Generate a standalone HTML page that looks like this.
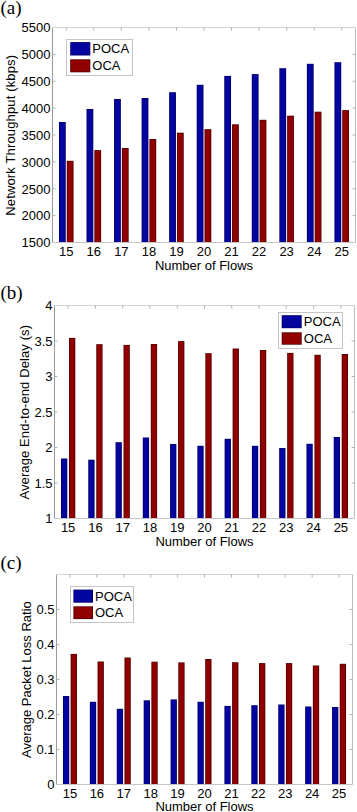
<!DOCTYPE html>
<html><head><meta charset="utf-8"><style>
html,body{margin:0;padding:0;background:#fff;}
body{width:357px;height:812px;overflow:hidden;}
svg{display:block;}
.t{font-family:'Liberation Sans', sans-serif;font-size:13px;fill:#000;}
.s{font-family:'Liberation Serif', serif;font-size:19px;fill:#000;}
</style></head><body>
<svg width="357" height="812" viewBox="0 0 357 812">
<rect width="357" height="812" fill="#fff"/>
<rect x="58.97" y="122.00" width="6.80" height="120.50" fill="#00006a"/><rect x="59.77" y="122.80" width="5.20" height="119.70" fill="#04049e"/>
<rect x="66.77" y="160.80" width="6.80" height="81.70" fill="#520000"/><rect x="67.57" y="161.60" width="5.20" height="80.90" fill="#900000"/>
<rect x="86.52" y="109.00" width="6.80" height="133.50" fill="#00006a"/><rect x="87.32" y="109.80" width="5.20" height="132.70" fill="#04049e"/>
<rect x="94.32" y="150.10" width="6.80" height="92.40" fill="#520000"/><rect x="95.12" y="150.90" width="5.20" height="91.60" fill="#900000"/>
<rect x="114.06" y="99.00" width="6.80" height="143.50" fill="#00006a"/><rect x="114.86" y="99.80" width="5.20" height="142.70" fill="#04049e"/>
<rect x="121.86" y="148.00" width="6.80" height="94.50" fill="#520000"/><rect x="122.66" y="148.80" width="5.20" height="93.70" fill="#900000"/>
<rect x="141.61" y="98.00" width="6.80" height="144.50" fill="#00006a"/><rect x="142.41" y="98.80" width="5.20" height="143.70" fill="#04049e"/>
<rect x="149.41" y="139.00" width="6.80" height="103.50" fill="#520000"/><rect x="150.21" y="139.80" width="5.20" height="102.70" fill="#900000"/>
<rect x="169.15" y="92.20" width="6.80" height="150.30" fill="#00006a"/><rect x="169.95" y="93.00" width="5.20" height="149.50" fill="#04049e"/>
<rect x="176.95" y="132.70" width="6.80" height="109.80" fill="#520000"/><rect x="177.75" y="133.50" width="5.20" height="109.00" fill="#900000"/>
<rect x="196.70" y="84.80" width="6.80" height="157.70" fill="#00006a"/><rect x="197.50" y="85.60" width="5.20" height="156.90" fill="#04049e"/>
<rect x="204.50" y="129.20" width="6.80" height="113.30" fill="#520000"/><rect x="205.30" y="130.00" width="5.20" height="112.50" fill="#900000"/>
<rect x="224.25" y="75.90" width="6.80" height="166.60" fill="#00006a"/><rect x="225.05" y="76.70" width="5.20" height="165.80" fill="#04049e"/>
<rect x="232.05" y="124.30" width="6.80" height="118.20" fill="#520000"/><rect x="232.85" y="125.10" width="5.20" height="117.40" fill="#900000"/>
<rect x="251.79" y="74.10" width="6.80" height="168.40" fill="#00006a"/><rect x="252.59" y="74.90" width="5.20" height="167.60" fill="#04049e"/>
<rect x="259.59" y="119.80" width="6.80" height="122.70" fill="#520000"/><rect x="260.39" y="120.60" width="5.20" height="121.90" fill="#900000"/>
<rect x="279.34" y="68.20" width="6.80" height="174.30" fill="#00006a"/><rect x="280.14" y="69.00" width="5.20" height="173.50" fill="#04049e"/>
<rect x="287.14" y="115.70" width="6.80" height="126.80" fill="#520000"/><rect x="287.94" y="116.50" width="5.20" height="126.00" fill="#900000"/>
<rect x="306.88" y="63.80" width="6.80" height="178.70" fill="#00006a"/><rect x="307.68" y="64.60" width="5.20" height="177.90" fill="#04049e"/>
<rect x="314.68" y="111.70" width="6.80" height="130.80" fill="#520000"/><rect x="315.48" y="112.50" width="5.20" height="130.00" fill="#900000"/>
<rect x="334.43" y="62.20" width="6.80" height="180.30" fill="#00006a"/><rect x="335.23" y="63.00" width="5.20" height="179.50" fill="#04049e"/>
<rect x="342.23" y="110.10" width="6.80" height="132.40" fill="#520000"/><rect x="343.03" y="110.90" width="5.20" height="131.60" fill="#900000"/>
<line x1="52.5" y1="27.5" x2="52.5" y2="242.5" stroke="#9a9a9a" stroke-width="1"/>
<line x1="355.5" y1="27.5" x2="355.5" y2="242.5" stroke="#bdbdbd" stroke-width="1"/>
<line x1="52.5" y1="27.5" x2="355.5" y2="27.5" stroke="#d2d2d2" stroke-width="1"/>
<line x1="52.5" y1="242.5" x2="355.5" y2="242.5" stroke="#c4c4c4" stroke-width="1"/>
<line x1="66.27" y1="27.5" x2="66.27" y2="30.5" stroke="#b0b0b0" stroke-width="1"/>
<line x1="93.82" y1="27.5" x2="93.82" y2="30.5" stroke="#b0b0b0" stroke-width="1"/>
<line x1="121.36" y1="27.5" x2="121.36" y2="30.5" stroke="#b0b0b0" stroke-width="1"/>
<line x1="148.91" y1="27.5" x2="148.91" y2="30.5" stroke="#b0b0b0" stroke-width="1"/>
<line x1="176.45" y1="27.5" x2="176.45" y2="30.5" stroke="#b0b0b0" stroke-width="1"/>
<line x1="204.00" y1="27.5" x2="204.00" y2="30.5" stroke="#b0b0b0" stroke-width="1"/>
<line x1="231.55" y1="27.5" x2="231.55" y2="30.5" stroke="#b0b0b0" stroke-width="1"/>
<line x1="259.09" y1="27.5" x2="259.09" y2="30.5" stroke="#b0b0b0" stroke-width="1"/>
<line x1="286.64" y1="27.5" x2="286.64" y2="30.5" stroke="#b0b0b0" stroke-width="1"/>
<line x1="314.18" y1="27.5" x2="314.18" y2="30.5" stroke="#b0b0b0" stroke-width="1"/>
<line x1="341.73" y1="27.5" x2="341.73" y2="30.5" stroke="#b0b0b0" stroke-width="1"/>
<text x="50.50" y="247.30" text-anchor="end" class="t">1500</text>
<line x1="52.5" y1="215.62" x2="55.5" y2="215.62" stroke="#b0b0b0" stroke-width="1"/>
<line x1="352.5" y1="215.62" x2="355.5" y2="215.62" stroke="#b0b0b0" stroke-width="1"/>
<text x="50.50" y="220.43" text-anchor="end" class="t">2000</text>
<line x1="52.5" y1="188.75" x2="55.5" y2="188.75" stroke="#b0b0b0" stroke-width="1"/>
<line x1="352.5" y1="188.75" x2="355.5" y2="188.75" stroke="#b0b0b0" stroke-width="1"/>
<text x="50.50" y="193.55" text-anchor="end" class="t">2500</text>
<line x1="52.5" y1="161.88" x2="55.5" y2="161.88" stroke="#b0b0b0" stroke-width="1"/>
<line x1="352.5" y1="161.88" x2="355.5" y2="161.88" stroke="#b0b0b0" stroke-width="1"/>
<text x="50.50" y="166.68" text-anchor="end" class="t">3000</text>
<line x1="52.5" y1="135.00" x2="55.5" y2="135.00" stroke="#b0b0b0" stroke-width="1"/>
<line x1="352.5" y1="135.00" x2="355.5" y2="135.00" stroke="#b0b0b0" stroke-width="1"/>
<text x="50.50" y="139.80" text-anchor="end" class="t">3500</text>
<line x1="52.5" y1="108.12" x2="55.5" y2="108.12" stroke="#b0b0b0" stroke-width="1"/>
<line x1="352.5" y1="108.12" x2="355.5" y2="108.12" stroke="#b0b0b0" stroke-width="1"/>
<text x="50.50" y="112.92" text-anchor="end" class="t">4000</text>
<line x1="52.5" y1="81.25" x2="55.5" y2="81.25" stroke="#b0b0b0" stroke-width="1"/>
<line x1="352.5" y1="81.25" x2="355.5" y2="81.25" stroke="#b0b0b0" stroke-width="1"/>
<text x="50.50" y="86.05" text-anchor="end" class="t">4500</text>
<line x1="52.5" y1="54.38" x2="55.5" y2="54.38" stroke="#b0b0b0" stroke-width="1"/>
<line x1="352.5" y1="54.38" x2="355.5" y2="54.38" stroke="#b0b0b0" stroke-width="1"/>
<text x="50.50" y="59.17" text-anchor="end" class="t">5000</text>
<text x="50.50" y="32.30" text-anchor="end" class="t">5500</text>
<text x="66.27" y="256.2" text-anchor="middle" class="t">15</text>
<text x="93.82" y="256.2" text-anchor="middle" class="t">16</text>
<text x="121.36" y="256.2" text-anchor="middle" class="t">17</text>
<text x="148.91" y="256.2" text-anchor="middle" class="t">18</text>
<text x="176.45" y="256.2" text-anchor="middle" class="t">19</text>
<text x="204.00" y="256.2" text-anchor="middle" class="t">20</text>
<text x="231.55" y="256.2" text-anchor="middle" class="t">21</text>
<text x="259.09" y="256.2" text-anchor="middle" class="t">22</text>
<text x="286.64" y="256.2" text-anchor="middle" class="t">23</text>
<text x="314.18" y="256.2" text-anchor="middle" class="t">24</text>
<text x="341.73" y="256.2" text-anchor="middle" class="t">25</text>
<text x="204.00" y="270.2" text-anchor="middle" class="t">Number of Flows</text>
<text transform="translate(14.7,135.35) rotate(-90)" text-anchor="middle" textLength="160.8" lengthAdjust="spacing" class="t">Network Throughput (kbps)</text>
<text x="0.5" y="14.2" class="s">(a)</text>
<rect x="66.5" y="39.5" width="66.0" height="36.0" fill="#fff" stroke="#c4c4c4" stroke-width="1"/>
<rect x="70.20" y="42.10" width="20.10" height="13.40" fill="#00006a"/><rect x="71.00" y="42.90" width="18.50" height="11.80" fill="#04049e"/>
<text x="92.3" y="53.40" class="t">POCA</text>
<rect x="70.20" y="59.30" width="20.10" height="13.00" fill="#520000"/><rect x="71.00" y="60.10" width="18.50" height="11.40" fill="#900000"/>
<text x="92.3" y="70.40" class="t">OCA</text>
<rect x="60.99" y="458.50" width="6.30" height="60.00" fill="#00006a"/><rect x="61.79" y="459.30" width="4.70" height="59.20" fill="#04049e"/>
<rect x="68.99" y="337.90" width="6.30" height="180.60" fill="#520000"/><rect x="69.79" y="338.70" width="4.70" height="179.80" fill="#900000"/>
<rect x="88.26" y="459.70" width="6.30" height="58.80" fill="#00006a"/><rect x="89.06" y="460.50" width="4.70" height="58.00" fill="#04049e"/>
<rect x="96.26" y="344.20" width="6.30" height="174.30" fill="#520000"/><rect x="97.06" y="345.00" width="4.70" height="173.50" fill="#900000"/>
<rect x="115.53" y="442.20" width="6.30" height="76.30" fill="#00006a"/><rect x="116.33" y="443.00" width="4.70" height="75.50" fill="#04049e"/>
<rect x="123.53" y="344.90" width="6.30" height="173.60" fill="#520000"/><rect x="124.33" y="345.70" width="4.70" height="172.80" fill="#900000"/>
<rect x="142.80" y="437.50" width="6.30" height="81.00" fill="#00006a"/><rect x="143.60" y="438.30" width="4.70" height="80.20" fill="#04049e"/>
<rect x="150.80" y="344.00" width="6.30" height="174.50" fill="#520000"/><rect x="151.60" y="344.80" width="4.70" height="173.70" fill="#900000"/>
<rect x="170.08" y="444.00" width="6.30" height="74.50" fill="#00006a"/><rect x="170.88" y="444.80" width="4.70" height="73.70" fill="#04049e"/>
<rect x="178.08" y="341.10" width="6.30" height="177.40" fill="#520000"/><rect x="178.88" y="341.90" width="4.70" height="176.60" fill="#900000"/>
<rect x="197.35" y="445.80" width="6.30" height="72.70" fill="#00006a"/><rect x="198.15" y="446.60" width="4.70" height="71.90" fill="#04049e"/>
<rect x="205.35" y="353.20" width="6.30" height="165.30" fill="#520000"/><rect x="206.15" y="354.00" width="4.70" height="164.50" fill="#900000"/>
<rect x="224.62" y="438.80" width="6.30" height="79.70" fill="#00006a"/><rect x="225.42" y="439.60" width="4.70" height="78.90" fill="#04049e"/>
<rect x="232.62" y="348.50" width="6.30" height="170.00" fill="#520000"/><rect x="233.42" y="349.30" width="4.70" height="169.20" fill="#900000"/>
<rect x="251.90" y="445.80" width="6.30" height="72.70" fill="#00006a"/><rect x="252.70" y="446.60" width="4.70" height="71.90" fill="#04049e"/>
<rect x="259.90" y="350.00" width="6.30" height="168.50" fill="#520000"/><rect x="260.70" y="350.80" width="4.70" height="167.70" fill="#900000"/>
<rect x="279.17" y="448.00" width="6.30" height="70.50" fill="#00006a"/><rect x="279.97" y="448.80" width="4.70" height="69.70" fill="#04049e"/>
<rect x="287.17" y="352.90" width="6.30" height="165.60" fill="#520000"/><rect x="287.97" y="353.70" width="4.70" height="164.80" fill="#900000"/>
<rect x="306.44" y="443.80" width="6.30" height="74.70" fill="#00006a"/><rect x="307.24" y="444.60" width="4.70" height="73.90" fill="#04049e"/>
<rect x="314.44" y="354.80" width="6.30" height="163.70" fill="#520000"/><rect x="315.24" y="355.60" width="4.70" height="162.90" fill="#900000"/>
<rect x="333.71" y="437.00" width="6.30" height="81.50" fill="#00006a"/><rect x="334.51" y="437.80" width="4.70" height="80.70" fill="#04049e"/>
<rect x="341.71" y="354.00" width="6.30" height="164.50" fill="#520000"/><rect x="342.51" y="354.80" width="4.70" height="163.70" fill="#900000"/>
<line x1="54.5" y1="305.5" x2="54.5" y2="518.5" stroke="#9a9a9a" stroke-width="1"/>
<line x1="354.5" y1="305.5" x2="354.5" y2="518.5" stroke="#bdbdbd" stroke-width="1"/>
<line x1="54.5" y1="305.5" x2="354.5" y2="305.5" stroke="#d2d2d2" stroke-width="1"/>
<line x1="54.5" y1="518.5" x2="354.5" y2="518.5" stroke="#c4c4c4" stroke-width="1"/>
<line x1="68.14" y1="305.5" x2="68.14" y2="308.5" stroke="#b0b0b0" stroke-width="1"/>
<line x1="95.41" y1="305.5" x2="95.41" y2="308.5" stroke="#b0b0b0" stroke-width="1"/>
<line x1="122.68" y1="305.5" x2="122.68" y2="308.5" stroke="#b0b0b0" stroke-width="1"/>
<line x1="149.95" y1="305.5" x2="149.95" y2="308.5" stroke="#b0b0b0" stroke-width="1"/>
<line x1="177.23" y1="305.5" x2="177.23" y2="308.5" stroke="#b0b0b0" stroke-width="1"/>
<line x1="204.50" y1="305.5" x2="204.50" y2="308.5" stroke="#b0b0b0" stroke-width="1"/>
<line x1="231.77" y1="305.5" x2="231.77" y2="308.5" stroke="#b0b0b0" stroke-width="1"/>
<line x1="259.05" y1="305.5" x2="259.05" y2="308.5" stroke="#b0b0b0" stroke-width="1"/>
<line x1="286.32" y1="305.5" x2="286.32" y2="308.5" stroke="#b0b0b0" stroke-width="1"/>
<line x1="313.59" y1="305.5" x2="313.59" y2="308.5" stroke="#b0b0b0" stroke-width="1"/>
<line x1="340.86" y1="305.5" x2="340.86" y2="308.5" stroke="#b0b0b0" stroke-width="1"/>
<text x="52.50" y="523.30" text-anchor="end" class="t">1</text>
<line x1="54.5" y1="483.00" x2="57.5" y2="483.00" stroke="#b0b0b0" stroke-width="1"/>
<line x1="351.5" y1="483.00" x2="354.5" y2="483.00" stroke="#b0b0b0" stroke-width="1"/>
<text x="52.50" y="487.80" text-anchor="end" class="t">1.5</text>
<line x1="54.5" y1="447.50" x2="57.5" y2="447.50" stroke="#b0b0b0" stroke-width="1"/>
<line x1="351.5" y1="447.50" x2="354.5" y2="447.50" stroke="#b0b0b0" stroke-width="1"/>
<text x="52.50" y="452.30" text-anchor="end" class="t">2</text>
<line x1="54.5" y1="412.00" x2="57.5" y2="412.00" stroke="#b0b0b0" stroke-width="1"/>
<line x1="351.5" y1="412.00" x2="354.5" y2="412.00" stroke="#b0b0b0" stroke-width="1"/>
<text x="52.50" y="416.80" text-anchor="end" class="t">2.5</text>
<line x1="54.5" y1="376.50" x2="57.5" y2="376.50" stroke="#b0b0b0" stroke-width="1"/>
<line x1="351.5" y1="376.50" x2="354.5" y2="376.50" stroke="#b0b0b0" stroke-width="1"/>
<text x="52.50" y="381.30" text-anchor="end" class="t">3</text>
<line x1="54.5" y1="341.00" x2="57.5" y2="341.00" stroke="#b0b0b0" stroke-width="1"/>
<line x1="351.5" y1="341.00" x2="354.5" y2="341.00" stroke="#b0b0b0" stroke-width="1"/>
<text x="52.50" y="345.80" text-anchor="end" class="t">3.5</text>
<text x="52.50" y="310.30" text-anchor="end" class="t">4</text>
<text x="68.14" y="531.9" text-anchor="middle" class="t">15</text>
<text x="95.41" y="531.9" text-anchor="middle" class="t">16</text>
<text x="122.68" y="531.9" text-anchor="middle" class="t">17</text>
<text x="149.95" y="531.9" text-anchor="middle" class="t">18</text>
<text x="177.23" y="531.9" text-anchor="middle" class="t">19</text>
<text x="204.50" y="531.9" text-anchor="middle" class="t">20</text>
<text x="231.77" y="531.9" text-anchor="middle" class="t">21</text>
<text x="259.05" y="531.9" text-anchor="middle" class="t">22</text>
<text x="286.32" y="531.9" text-anchor="middle" class="t">23</text>
<text x="313.59" y="531.9" text-anchor="middle" class="t">24</text>
<text x="340.86" y="531.9" text-anchor="middle" class="t">25</text>
<text x="204.50" y="546.3" text-anchor="middle" class="t">Number of Flows</text>
<text transform="translate(28.8,412.25) rotate(-90)" text-anchor="middle" textLength="174.6" lengthAdjust="spacing" class="t">Average End-to-end Delay (s)</text>
<text x="0.5" y="298.5" class="s">(b)</text>
<rect x="278.5" y="312.5" width="64.0" height="36.0" fill="#fff" stroke="#c4c4c4" stroke-width="1"/>
<rect x="281.70" y="315.20" width="20.00" height="13.00" fill="#00006a"/><rect x="282.50" y="316.00" width="18.40" height="11.40" fill="#04049e"/>
<text x="303.8" y="326.30" class="t">POCA</text>
<rect x="281.70" y="332.30" width="20.00" height="12.40" fill="#520000"/><rect x="282.50" y="333.10" width="18.40" height="10.80" fill="#900000"/>
<text x="303.8" y="343.10" class="t">OCA</text>
<rect x="62.95" y="696.00" width="6.30" height="88.50" fill="#00006a"/><rect x="63.75" y="696.80" width="4.70" height="87.70" fill="#04049e"/>
<rect x="70.65" y="653.90" width="6.30" height="130.60" fill="#520000"/><rect x="71.45" y="654.70" width="4.70" height="129.80" fill="#900000"/>
<rect x="89.86" y="701.80" width="6.30" height="82.70" fill="#00006a"/><rect x="90.66" y="702.60" width="4.70" height="81.90" fill="#04049e"/>
<rect x="97.56" y="661.50" width="6.30" height="123.00" fill="#520000"/><rect x="98.36" y="662.30" width="4.70" height="122.20" fill="#900000"/>
<rect x="116.77" y="708.80" width="6.30" height="75.70" fill="#00006a"/><rect x="117.57" y="709.60" width="4.70" height="74.90" fill="#04049e"/>
<rect x="124.47" y="657.50" width="6.30" height="127.00" fill="#520000"/><rect x="125.27" y="658.30" width="4.70" height="126.20" fill="#900000"/>
<rect x="143.68" y="700.30" width="6.30" height="84.20" fill="#00006a"/><rect x="144.48" y="701.10" width="4.70" height="83.40" fill="#04049e"/>
<rect x="151.38" y="661.70" width="6.30" height="122.80" fill="#520000"/><rect x="152.18" y="662.50" width="4.70" height="122.00" fill="#900000"/>
<rect x="170.59" y="699.40" width="6.30" height="85.10" fill="#00006a"/><rect x="171.39" y="700.20" width="4.70" height="84.30" fill="#04049e"/>
<rect x="178.29" y="662.40" width="6.30" height="122.10" fill="#520000"/><rect x="179.09" y="663.20" width="4.70" height="121.30" fill="#900000"/>
<rect x="197.50" y="701.80" width="6.30" height="82.70" fill="#00006a"/><rect x="198.30" y="702.60" width="4.70" height="81.90" fill="#04049e"/>
<rect x="205.20" y="659.00" width="6.30" height="125.50" fill="#520000"/><rect x="206.00" y="659.80" width="4.70" height="124.70" fill="#900000"/>
<rect x="224.41" y="705.90" width="6.30" height="78.60" fill="#00006a"/><rect x="225.21" y="706.70" width="4.70" height="77.80" fill="#04049e"/>
<rect x="232.11" y="662.20" width="6.30" height="122.30" fill="#520000"/><rect x="232.91" y="663.00" width="4.70" height="121.50" fill="#900000"/>
<rect x="251.32" y="705.20" width="6.30" height="79.30" fill="#00006a"/><rect x="252.12" y="706.00" width="4.70" height="78.50" fill="#04049e"/>
<rect x="259.02" y="663.10" width="6.30" height="121.40" fill="#520000"/><rect x="259.82" y="663.90" width="4.70" height="120.60" fill="#900000"/>
<rect x="278.23" y="704.50" width="6.30" height="80.00" fill="#00006a"/><rect x="279.03" y="705.30" width="4.70" height="79.20" fill="#04049e"/>
<rect x="285.93" y="663.10" width="6.30" height="121.40" fill="#520000"/><rect x="286.73" y="663.90" width="4.70" height="120.60" fill="#900000"/>
<rect x="305.14" y="706.50" width="6.30" height="78.00" fill="#00006a"/><rect x="305.94" y="707.30" width="4.70" height="77.20" fill="#04049e"/>
<rect x="312.84" y="665.50" width="6.30" height="119.00" fill="#520000"/><rect x="313.64" y="666.30" width="4.70" height="118.20" fill="#900000"/>
<rect x="332.05" y="707.00" width="6.30" height="77.50" fill="#00006a"/><rect x="332.85" y="707.80" width="4.70" height="76.70" fill="#04049e"/>
<rect x="339.75" y="663.80" width="6.30" height="120.70" fill="#520000"/><rect x="340.55" y="664.60" width="4.70" height="119.90" fill="#900000"/>
<line x1="56.5" y1="574.5" x2="56.5" y2="784.5" stroke="#9a9a9a" stroke-width="1"/>
<line x1="352.5" y1="574.5" x2="352.5" y2="784.5" stroke="#bdbdbd" stroke-width="1"/>
<line x1="56.5" y1="574.5" x2="352.5" y2="574.5" stroke="#d2d2d2" stroke-width="1"/>
<line x1="56.5" y1="784.5" x2="352.5" y2="784.5" stroke="#c4c4c4" stroke-width="1"/>
<line x1="69.95" y1="574.5" x2="69.95" y2="577.5" stroke="#b0b0b0" stroke-width="1"/>
<line x1="96.86" y1="574.5" x2="96.86" y2="577.5" stroke="#b0b0b0" stroke-width="1"/>
<line x1="123.77" y1="574.5" x2="123.77" y2="577.5" stroke="#b0b0b0" stroke-width="1"/>
<line x1="150.68" y1="574.5" x2="150.68" y2="577.5" stroke="#b0b0b0" stroke-width="1"/>
<line x1="177.59" y1="574.5" x2="177.59" y2="577.5" stroke="#b0b0b0" stroke-width="1"/>
<line x1="204.50" y1="574.5" x2="204.50" y2="577.5" stroke="#b0b0b0" stroke-width="1"/>
<line x1="231.41" y1="574.5" x2="231.41" y2="577.5" stroke="#b0b0b0" stroke-width="1"/>
<line x1="258.32" y1="574.5" x2="258.32" y2="577.5" stroke="#b0b0b0" stroke-width="1"/>
<line x1="285.23" y1="574.5" x2="285.23" y2="577.5" stroke="#b0b0b0" stroke-width="1"/>
<line x1="312.14" y1="574.5" x2="312.14" y2="577.5" stroke="#b0b0b0" stroke-width="1"/>
<line x1="339.05" y1="574.5" x2="339.05" y2="577.5" stroke="#b0b0b0" stroke-width="1"/>
<text x="54.50" y="789.30" text-anchor="end" class="t">0</text>
<line x1="56.5" y1="749.50" x2="59.5" y2="749.50" stroke="#b0b0b0" stroke-width="1"/>
<line x1="349.5" y1="749.50" x2="352.5" y2="749.50" stroke="#b0b0b0" stroke-width="1"/>
<text x="54.50" y="754.30" text-anchor="end" class="t">0.1</text>
<line x1="56.5" y1="714.50" x2="59.5" y2="714.50" stroke="#b0b0b0" stroke-width="1"/>
<line x1="349.5" y1="714.50" x2="352.5" y2="714.50" stroke="#b0b0b0" stroke-width="1"/>
<text x="54.50" y="719.30" text-anchor="end" class="t">0.2</text>
<line x1="56.5" y1="679.50" x2="59.5" y2="679.50" stroke="#b0b0b0" stroke-width="1"/>
<line x1="349.5" y1="679.50" x2="352.5" y2="679.50" stroke="#b0b0b0" stroke-width="1"/>
<text x="54.50" y="684.30" text-anchor="end" class="t">0.3</text>
<line x1="56.5" y1="644.50" x2="59.5" y2="644.50" stroke="#b0b0b0" stroke-width="1"/>
<line x1="349.5" y1="644.50" x2="352.5" y2="644.50" stroke="#b0b0b0" stroke-width="1"/>
<text x="54.50" y="649.30" text-anchor="end" class="t">0.4</text>
<line x1="56.5" y1="609.50" x2="59.5" y2="609.50" stroke="#b0b0b0" stroke-width="1"/>
<line x1="349.5" y1="609.50" x2="352.5" y2="609.50" stroke="#b0b0b0" stroke-width="1"/>
<text x="54.50" y="614.30" text-anchor="end" class="t">0.5</text>
<text x="69.95" y="797.8" text-anchor="middle" class="t">15</text>
<text x="96.86" y="797.8" text-anchor="middle" class="t">16</text>
<text x="123.77" y="797.8" text-anchor="middle" class="t">17</text>
<text x="150.68" y="797.8" text-anchor="middle" class="t">18</text>
<text x="177.59" y="797.8" text-anchor="middle" class="t">19</text>
<text x="204.50" y="797.8" text-anchor="middle" class="t">20</text>
<text x="231.41" y="797.8" text-anchor="middle" class="t">21</text>
<text x="258.32" y="797.8" text-anchor="middle" class="t">22</text>
<text x="285.23" y="797.8" text-anchor="middle" class="t">23</text>
<text x="312.14" y="797.8" text-anchor="middle" class="t">24</text>
<text x="339.05" y="797.8" text-anchor="middle" class="t">25</text>
<text x="204.50" y="811.0" text-anchor="middle" class="t">Number of Flows</text>
<text transform="translate(31.0,679.60) rotate(-90)" text-anchor="middle" textLength="156.9" lengthAdjust="spacing" class="t">Average Packet Loss Ratio</text>
<text x="0.5" y="569.3" class="s">(c)</text>
<rect x="70.5" y="586.5" width="63.0" height="36.0" fill="#fff" stroke="#c4c4c4" stroke-width="1"/>
<rect x="73.40" y="589.60" width="19.60" height="13.10" fill="#00006a"/><rect x="74.20" y="590.40" width="18.00" height="11.50" fill="#04049e"/>
<text x="95.0" y="600.75" class="t">POCA</text>
<rect x="73.40" y="606.30" width="19.60" height="12.80" fill="#520000"/><rect x="74.20" y="607.10" width="18.00" height="11.20" fill="#900000"/>
<text x="95.0" y="617.30" class="t">OCA</text>
</svg>
</body></html>
